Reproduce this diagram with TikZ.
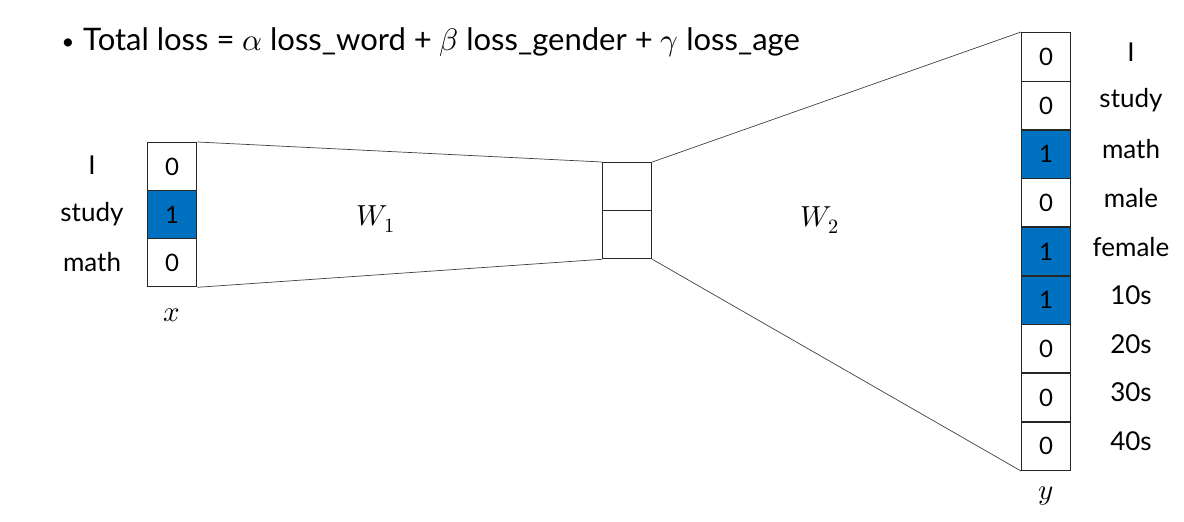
\documentclass[tikz,border=0pt]{standalone}
\usepackage{fontspec}
\usepackage{unicode-math}
\setmainfont{Lato}
\setmathfont{Latin Modern Math}
\definecolor{cellblue}{HTML}{0070C0}
\definecolor{linegray}{HTML}{404040}
\begin{document}
\begin{tikzpicture}[x=1pt,y=-1pt,
  cell/.style={draw=black!85,line width=1.3pt,minimum width=49pt,minimum height=48.5pt,inner sep=0pt,font=\fontsize{24}{24}\selectfont,anchor=north west},
  hot/.style={cell,fill=cellblue},
  lbl/.style={font=\fontsize{26}{26}\selectfont,anchor=center},
  mlbl/.style={font=\fontsize{29}{29}\selectfont,anchor=center},
  conn/.style={draw=linegray,line width=0.7pt}]
\useasboundingbox (0,0) rectangle (1184,522);
\node[anchor=base west,font=\fontsize{22}{22}\selectfont] (bul) at (58,49) {\textbullet};
\node[anchor=base west,font=\fontsize{31}{31}\selectfont,inner sep=0pt] (title) at (83,50) {Total loss = $\alpha$ loss\_word + $\beta$ loss\_gender + $\gamma$ loss\_age};
% left vector
\node[cell,minimum height=48pt] (x1) at (147,142) {0};
\node[hot,minimum height=48pt] (x2) at (147,190) {1};
\node[cell,minimum height=48pt] (x3) at (147,238) {0};
\node[lbl] (lx1) at (92,165) {I};
\node[lbl] (lx2) at (92,214) {study};
\node[lbl] (lx3) at (92,262) {math};
\node[mlbl] (xl) at (172,315) {$x$};
% hidden
\node[cell,minimum height=48pt] (h1) at (602,162) {};
\node[cell,minimum height=48pt] (h2) at (602,210) {};
% right vector
\foreach \i/\v/\s in {1/0/cell,2/0/cell,3/1/hot,4/0/cell,5/1/hot,6/1/hot,7/0/cell,8/0/cell,9/0/cell}{
  \node[\s] (y\i) at (1021,{32+48.65*(\i-1)}) {\v};
}
\foreach \i/\t in {1/I,2/study,3/math,4/male,5/female,6/10s,7/20s,8/30s,9/40s}{
  \node[lbl] (ly\i) at (1131,{52+48.65*(\i-1)}) {\t};
}
\node[mlbl] (yl) at (1046,496) {$y$};
% connectors
\draw[conn] (x1.north east) -- (h1.north west);
\draw[conn] (x3.south east) -- (h2.south west);
\draw[conn] (h1.north east) -- (y1.north west);
\draw[conn] (h2.south east) -- (y9.south west);
\node[mlbl] (w1) at (376,219) {$W_1$};
\node[mlbl] (w2) at (820,220) {$W_2$};
\end{tikzpicture}
\end{document}
